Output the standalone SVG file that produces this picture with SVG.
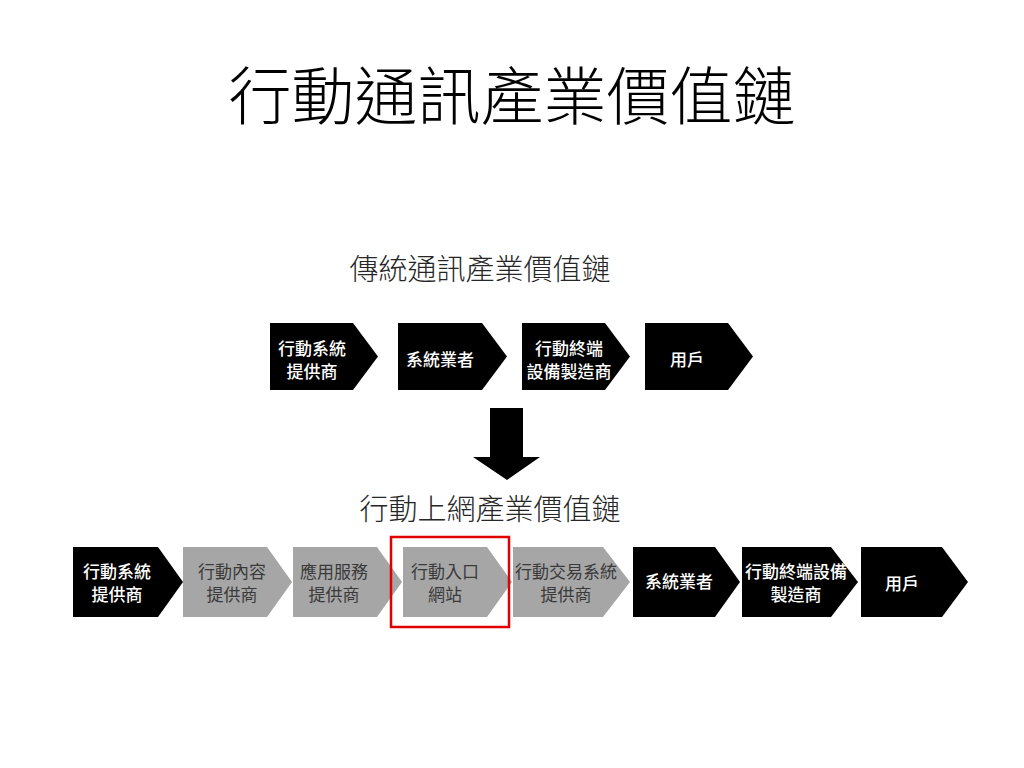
<svg xmlns="http://www.w3.org/2000/svg" width="1024" height="768" viewBox="0 0 1024 768">
<style>
text{font-family:"Noto Sans CJK TC","Noto Sans CJK SC",sans-serif;text-anchor:middle;dominant-baseline:central}
.title{font-family:"Liberation Serif","Noto Sans CJK TC",serif;font-size:63px;font-weight:300;fill:#000}
.sub{font-size:29px;font-weight:300;fill:#262626}
.b{fill:#000}
.g{fill:#a6a6a6}
.tw{font-size:17px;font-weight:500;fill:#fff}
.tg{font-size:17px;fill:#3a3a3a}
</style>
<rect width="1024" height="768" fill="#fff"/>
<text class="title" x="512" y="98">行動通訊產業價值鏈</text>
<text class="sub" x="480" y="267">傳統通訊產業價值鏈</text>
<text class="sub" x="490" y="507">行動上網產業價值鏈</text>

<g id="top1"><path class="b" d="M270,323H353L378,356.5L353,390H270Z"/><text class="tw" x="312" y="347">行動系統</text><text class="tw" x="312" y="370">提供商</text></g>
<g id="top2"><path class="b" d="M398,323H482L507,356.5L482,390H398Z"/><text class="tw" x="440" y="358">系統業者</text></g>
<g id="top3"><path class="b" d="M522,323H605L630,356.5L605,390H522Z"/><text class="tw" x="569" y="347">行動終端</text><text class="tw" x="569" y="370">設備製造商</text></g>
<g id="top4"><path class="b" d="M645,323H728L753,356.5L728,390H645Z"/><text class="tw" x="687" y="358">用戶</text></g>

<g id="connectors"><path class="b" d="M490,408H523V457H540L507,480L473,457H490Z"/></g>

<g id="bot1"><path class="b" d="M73,547H158L183,582L158,617H73Z"/><text class="tw" x="117" y="570">行動系統</text><text class="tw" x="117" y="593">提供商</text></g>
<g id="bot2"><path class="g" d="M183,547H267L292,582L267,617H183Z"/><text class="tg" x="232" y="570">行動內容</text><text class="tg" x="232" y="593">提供商</text></g>
<g id="bot3"><path class="g" d="M293,547H377L402,582L377,617H293Z"/><text class="tg" x="334" y="570">應用服務</text><text class="tg" x="334" y="593">提供商</text></g>
<g id="bot4"><path class="g" d="M403,547H487L512,582L487,617H403Z"/><text class="tg" x="445" y="570">行動入口</text><text class="tg" x="445" y="593">網站</text></g>
<g id="bot5"><path class="g" d="M513,547H603L630,582L603,617H513Z"/><text class="tg" x="566" y="570">行動交易系統</text><text class="tg" x="566" y="593">提供商</text></g>
<g id="bot6"><path class="b" d="M633,547H715L740,582L715,617H633Z"/><text class="tw" x="679" y="580">系統業者</text></g>
<g id="bot7"><path class="b" d="M742,547H831L858,582L831,617H742Z"/><text class="tw" x="796" y="570">行動終端設備</text><text class="tw" x="796" y="593">製造商</text></g>
<g id="bot8"><path class="b" d="M861,547H942L968,582L942,617H861Z"/><text class="tw" x="902" y="582">用戶</text></g>

<g id="highlight"><rect x="391" y="537" width="118" height="90" fill="none" stroke="#e00000" stroke-width="2.5"/></g>
</svg>
